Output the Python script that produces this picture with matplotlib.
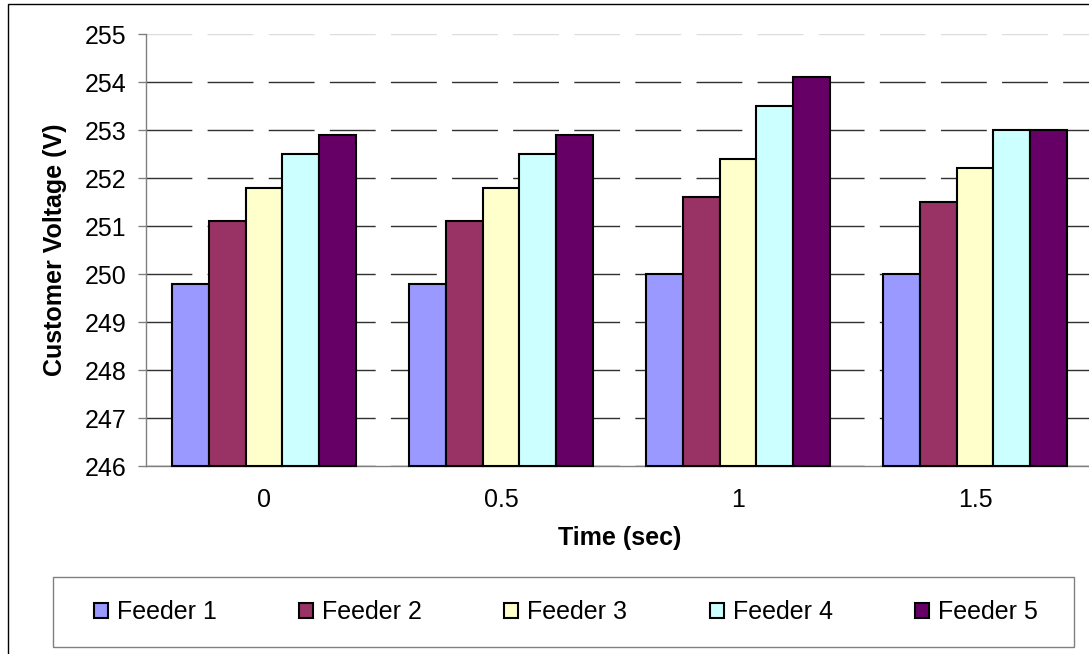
import matplotlib
matplotlib.use("Agg")
import matplotlib.pyplot as plt
from matplotlib.patches import Rectangle
import numpy as np

plt.rcParams['font.family'] = ['Liberation Sans', 'DejaVu Sans']

times = ['0', '0.5', '1', '1.5']
feeders = ['Feeder 1', 'Feeder 2', 'Feeder 3', 'Feeder 4', 'Feeder 5']
feeder1 = [249.8, 249.8, 250.0, 250.0]
feeder2 = [251.1, 251.1, 251.6, 251.5]
feeder3 = [251.8, 251.8, 252.4, 252.2]
feeder4 = [252.5, 252.5, 253.5, 253.0]
feeder5 = [252.9, 252.9, 254.1, 253.0]
series = [feeder1, feeder2, feeder3, feeder4, feeder5]
colors = ['#9999FF', '#993366', '#FFFFCC', '#CCFFFF', '#660066']
y_min, y_max = 246, 255

W, H = 1089, 654
fig = plt.figure(figsize=(W / 100, H / 100), dpi=100)
ax = fig.add_axes([145.5 / W, 1 - 466 / H, 948 / W, 432 / H])

x = np.arange(len(times))
bw = 0.156
handles = []
for j, (vals, c) in enumerate(zip(series, colors)):
    vals = np.array(vals)
    b = ax.bar(x + (j - 2) * bw, vals - y_min, bottom=y_min, width=bw,
               color=c, edgecolor='black', linewidth=1.5, label=feeders[j],
               clip_on=False, zorder=3)
    handles.append(b)

ax.set_xlim(-0.5, 3.5)
ax.set_ylim(y_min, y_max)
ax.set_yticks(np.arange(y_min, y_max + 1, 1))
ax.set_xticks(x)
ax.set_xticklabels(times)

ax.set_axisbelow(True)
ax.yaxis.grid(True, color='#303030', linewidth=1, linestyle=(0, (33, 11)))
gl = ax.yaxis.get_gridlines()
gl[-1].set_color('#dddddd')
ax.xaxis.grid(False)

for s in ['top', 'right']:
    ax.spines[s].set_visible(False)
for s in ['left', 'bottom']:
    ax.spines[s].set_color('#808080')
    ax.spines[s].set_linewidth(1)

ax.tick_params(axis='y', direction='out', length=5.8, width=1, color='#808080',
               pad=8, labelsize=18)
ax.tick_params(axis='x', length=0, pad=16, labelsize=18)

ax.set_ylabel('Customer Voltage (V)', fontsize=18, fontweight='bold')
ax.yaxis.set_label_coords(-0.0955, 0.5)
ax.yaxis.label.set_verticalalignment('center')
ax.set_xlabel('Time (sec)', fontsize=18, fontweight='bold')
ax.xaxis.set_label_coords(0.5, -0.1667)
ax.xaxis.label.set_verticalalignment('center')

# legend
fig.patches.append(Rectangle((53 / W, 1 - 647 / H), 1021 / W, 70 / H,
                             transform=fig.transFigure, fill=False,
                             edgecolor='#808080', linewidth=1))
fig.legend(handles, feeders, loc='center', bbox_to_anchor=(566 / W, 1 - 612 / H),
           ncol=5, frameon=False, fontsize=18, handlelength=0.56,
           handleheight=0.56, handletextpad=0.36, columnspacing=3.3)

# chart border
fig.patches.append(Rectangle((7.5 / W, -0.1), 1.2, 1.1 - 4 / H,
                             transform=fig.transFigure, fill=False,
                             edgecolor='black', linewidth=1, clip_on=False))

fig.savefig('out.png', dpi=100)
